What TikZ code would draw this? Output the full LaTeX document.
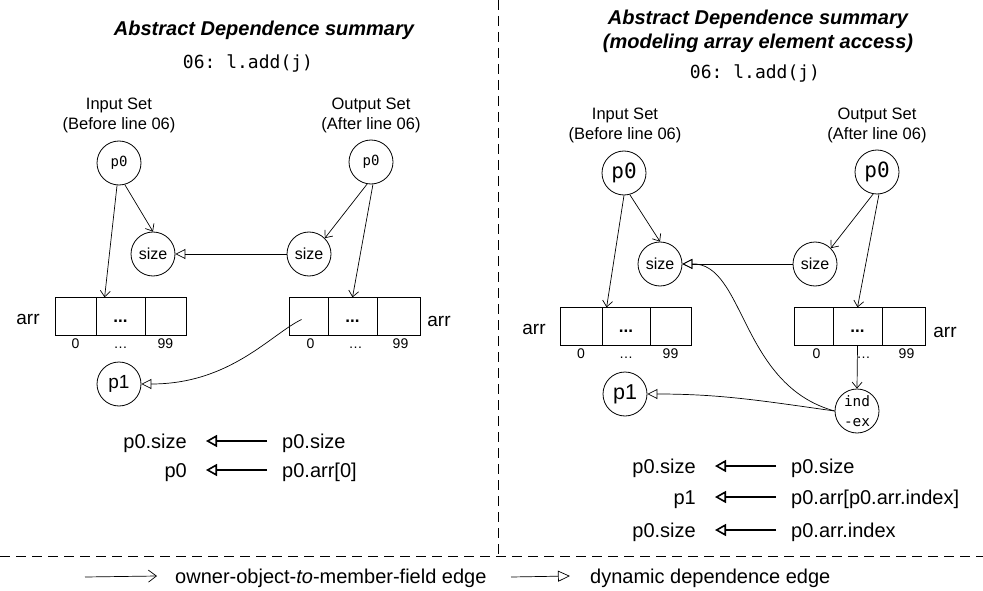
\documentclass[tikz,border=0pt]{standalone}
\usepackage{fontspec}
\setmainfont{Liberation Sans}
\setmonofont{DejaVu Sans Mono}
\usetikzlibrary{arrows.meta,positioning}

\begin{document}
\begin{tikzpicture}[x=1pt, y=-1pt,
    obj/.style={circle, draw, line width=0.8pt, minimum size=44pt, inner sep=0pt},
    cell/.style={rectangle, draw, line width=0.8pt, minimum height=37.5pt, text height=12pt, text depth=0pt, inner sep=0pt, font=\fontsize{17}{17}\selectfont\bfseries},
    idx/.style={inner sep=0pt, text height=10pt, text depth=0pt, font=\fontsize{14}{14}\selectfont},
    lbl/.style={align=center, font=\fontsize{16.5}{20}\selectfont},
    ttl/.style={align=center, font=\fontsize{20}{24}\selectfont\bfseries\itshape},
    code/.style={font=\fontsize{18}{18}\selectfont\ttfamily},
    dtext/.style={inner sep=0pt, text height=14pt, text depth=0pt, font=\fontsize{20}{20}\selectfont},
    own/.style={line width=0.7pt, -{Straight Barb[length=6pt,width=10pt]}},
    dep/.style={line width=0.7pt, -{Triangle[open,length=10pt,width=10pt]}},
    rel/.style={line width=1.6pt, -{Triangle[open,length=11pt,width=12pt]}, shorten >=19pt, shorten <=15pt},
    sep/.style={line width=0.7pt, dash pattern=on 10pt off 6pt}
]
    \useasboundingbox (0,0) rectangle (983,591);

    % left panel
    \node[ttl] (titleA) at (264,30) {Abstract Dependence summary};
    \node[code] (codeA) at (248,63) {06: l.add(j)};
    \node[lbl] (inA) at (119,115) {Input Set\\(Before line 06)};
    \node[lbl] (outA) at (371,115) {Output Set\\(After line 06)};
    \node[obj, font=\fontsize{14}{14}\selectfont\ttfamily] (p0inA) at (119,163) {p0};
    \node[obj, font=\fontsize{14}{14}\selectfont\ttfamily] (p0outA) at (371,162) {p0};
    \node[obj, font=\fontsize{16}{16}\selectfont] (sizeinA) at (153,254) {size};
    \node[obj, font=\fontsize{16}{16}\selectfont] (sizeoutA) at (309,254) {size};
    \node[obj, font=\fontsize{19}{19}\selectfont] (p1A) at (119,384) {p1};

    \node[cell, minimum width=41pt] (aA0) at (75.5,316.5) {};
    \node[cell, minimum width=49pt] (aA1) at (120.5,316.5) {...};
    \node[cell, minimum width=41pt] (aA2) at (165.5,316.5) {};
    \node[cell, minimum width=39pt] (bA0) at (308.5,316.5) {};
    \node[cell, minimum width=49pt] (bA1) at (352.5,316.5) {...};
    \node[cell, minimum width=43pt] (bA2) at (398.5,316.5) {};
    \node[font=\fontsize{19}{19}\selectfont] (arrinA) at (28,319) {arr};
    \node[font=\fontsize{19}{19}\selectfont] (arroutA) at (439,321) {arr};
    \node[idx, below=3pt of aA0] {0};
    \node[idx, below=3pt of aA1] {…};
    \node[idx, below=3pt of aA2] {99};
    \node[idx, below=3pt of bA0, xshift=2pt] {0};
    \node[idx, below=3pt of bA1, xshift=3pt] {…};
    \node[idx, below=3pt of bA2, xshift=2pt] {99};

    \draw[own] (p0inA.-95) -- ([xshift=9pt]aA1.north west);
    \draw[own] (p0inA.-75) -- (sizeinA.north);
    \draw[own] (p0outA.-100) -- (sizeoutA.north east);
    \draw[own] (p0outA.-85) -- (bA1.north);
    \draw[dep] (sizeoutA) -- (sizeinA);
    \draw[dep] ([xshift=-7pt,yshift=-3pt]bA0.center) .. controls (270,335) and (230,384) .. (p1A.east);

    \node[dtext, anchor=east] (lA1) at (187,441) {p0.size};
    \node[dtext, anchor=west] (rA1) at (282,441) {p0.size};
    \node[dtext, anchor=east] (lA2) at (187,470) {p0};
    \node[dtext, anchor=west] (rA2) at (282,470) {p0.arr[0]};
    \draw[rel] (rA1.west) -- (lA1.east);
    \draw[rel] (rA2.west) -- (lA2.east);

    % right panel
    \node[ttl] (titleB) at (758,31) {Abstract Dependence summary\\(modeling array element access)};
    \node[code] (codeB) at (755,73) {06: l.add(j)};
    \node[lbl] (inB) at (625,125) {Input Set\\(Before line 06)};
    \node[lbl] (outB) at (877,125) {Output Set\\(After line 06)};
    \node[obj, font=\fontsize{21}{21}\selectfont\ttfamily] (p0inB) at (624,173) {p0};
    \node[obj, font=\fontsize{21}{21}\selectfont\ttfamily] (p0outB) at (877,172) {p0};
    \node[obj, font=\fontsize{16}{16}\selectfont] (sizeinB) at (660,264) {size};
    \node[obj, font=\fontsize{16}{16}\selectfont] (sizeoutB) at (815,264) {size};
    \node[obj, font=\fontsize{21.5}{21.5}\selectfont] (p1B) at (625,394) {p1};
    \node[obj, align=center, font=\fontsize{14.4}{20}\selectfont\ttfamily] (indB) at (857,411) {ind\\-ex};

    \node[cell, minimum width=42pt] (aB0) at (581,326.5) {};
    \node[cell, minimum width=48pt] (aB1) at (626,326.5) {...};
    \node[cell, minimum width=41pt] (aB2) at (670.5,326.5) {};
    \node[cell, minimum width=39pt] (bB0) at (813.5,326.5) {};
    \node[cell, minimum width=49pt] (bB1) at (857.5,326.5) {...};
    \node[cell, minimum width=43pt] (bB2) at (903.5,326.5) {};
    \node[font=\fontsize{19}{19}\selectfont] (arrinB) at (534,329) {arr};
    \node[font=\fontsize{19}{19}\selectfont] (arroutB) at (945,332) {arr};
    \node[idx, below=3pt of aB0] {0};
    \node[idx, below=3pt of aB1] {…};
    \node[idx, below=3pt of aB2] {99};
    \node[idx, below=3pt of bB0, xshift=3pt] {0};
    \node[idx, below=3pt of bB1, xshift=6pt] {…};
    \node[idx, below=3pt of bB2, xshift=3pt] {99};

    \draw[own] (p0inB.-90) -- ([xshift=5pt]aB1.north west);
    \draw[own] (p0inB.-75) -- (sizeinB.north);
    \draw[own] (p0outB.-100) -- (sizeoutB.north east);
    \draw[own] (p0outB.-85) -- (bB1.north);
    \draw[own] (bB1.south) -- (indB.north);
    \draw[dep] (sizeoutB) -- (sizeinB);
    \draw[dep] (indB.west) to[out=172, in=0] (p1B.east);
    \draw[dep] (indB.west) .. controls (740,385) and (745,263) .. (sizeinB.east);

    \node[dtext, anchor=east] (lB1) at (696,466) {p0.size};
    \node[dtext, anchor=west] (rB1) at (791,466) {p0.size};
    \node[dtext, anchor=east] (lB2) at (696,497) {p1};
    \node[dtext, anchor=west] (rB2) at (791,497) {p0.arr[p0.arr.index]};
    \node[dtext, anchor=east] (lB3) at (696,530) {p0.size};
    \node[dtext, anchor=west] (rB3) at (791,530) {p0.arr.index};
    \draw[rel] (rB1.west) -- (lB1.east);
    \draw[rel] (rB2.west) -- (lB2.east);
    \draw[rel] (rB3.west) -- (lB3.east);

    % separators and legend
    \draw[sep] (498,0) -- (498,556);
    \draw[sep] (0,556) -- (983,556);
    \coordinate (legA) at (85,577);
    \coordinate (legB) at (511,577);
    \node[dtext, anchor=west] (legAt) at (175,576) {owner-object-\textit{to}-member-field edge};
    \node[dtext, anchor=west] (legBt) at (590,576) {dynamic dependence edge};
    \draw[line width=0.7pt, -{Straight Barb[length=8pt,width=12pt]}] (legA) -- ([xshift=-18pt]legAt.west);
    \draw[line width=0.7pt, -{Triangle[open,length=12pt,width=11pt]}] (legB) -- ([xshift=-20pt]legBt.west);
\end{tikzpicture}
\end{document}
